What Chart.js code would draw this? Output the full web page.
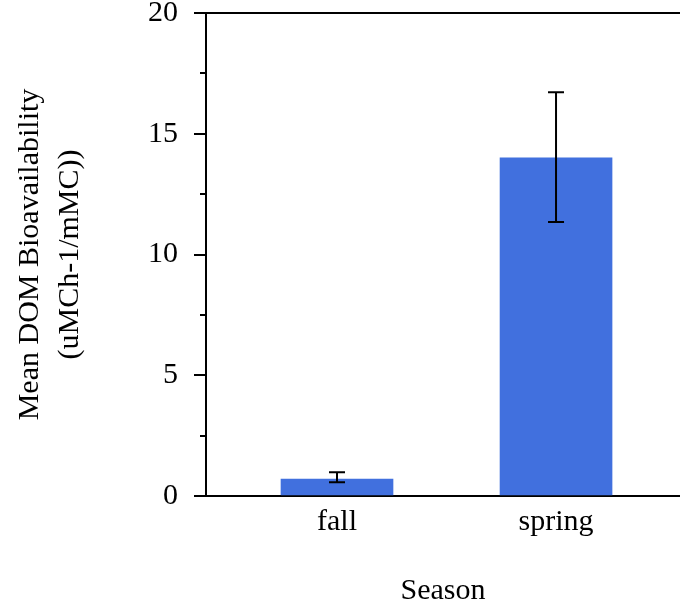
<!DOCTYPE html>
<html>
<head>
<meta charset="utf-8">
<script src="https://cdn.jsdelivr.net/npm/chart.js@4.4.1/dist/chart.umd.min.js"></script>
<style>
    html, body { margin: 0; padding: 0; background: #fff; }
    #wrap { width: 680px; height: 608px; }
</style>
</head>
<body>
<div id="wrap"><canvas id="chart"></canvas></div>
<script>
const seasons = ['fall', 'spring'];
const meanValues = [0.70, 14.0];
const errLow = [0.57, 11.35];
const errHigh = [0.98, 16.72];
const minorTicks = [2.5, 7.5, 12.5, 17.5];

const FONT = 'Liberation Serif, Times New Roman, serif';

// error bars, minor ticks and the top frame line
const extrasPlugin = {
    id: 'extras',
    afterDatasetsDraw(chart) {
        const { ctx, chartArea, scales: { x, y } } = chart;
        ctx.save();
        ctx.strokeStyle = '#000';
        ctx.lineWidth = 2;

        seasons.forEach((s, i) => {
            const px = x.getPixelForValue(i + 1);
            const yLo = y.getPixelForValue(errLow[i]);
            const yHi = y.getPixelForValue(errHigh[i]);
            ctx.beginPath();
            ctx.moveTo(px, yLo);
            ctx.lineTo(px, yHi);
            ctx.moveTo(px - 8, yLo);
            ctx.lineTo(px + 8, yLo);
            ctx.moveTo(px - 8, yHi);
            ctx.lineTo(px + 8, yHi);
            ctx.stroke();
        });

        minorTicks.forEach(v => {
            const py = Math.round(y.getPixelForValue(v));
            ctx.beginPath();
            ctx.moveTo(chartArea.left - 6, py);
            ctx.lineTo(chartArea.left, py);
            ctx.stroke();
        });

        ctx.beginPath();
        ctx.moveTo(chartArea.left, chartArea.top);
        ctx.lineTo(chartArea.right, chartArea.top);
        ctx.stroke();
        ctx.restore();
    }
};

new Chart(document.getElementById('chart'), {
    type: 'bar',
    data: {
        datasets: [{
            data: meanValues.map((v, i) => ({ x: i + 1, y: v })),
            backgroundColor: '#4170DE',
            barThickness: 112,
            borderWidth: 0
        }]
    },
    options: {
        responsive: true,
        maintainAspectRatio: false,
        animation: false,
        layout: { padding: 0 },
        plugins: {
            legend: { display: false },
            tooltip: { enabled: false }
        },
        scales: {
            x: {
                type: 'linear',
                offset: false,
                min: 0.4018,
                max: 2.566,
                afterBuildTicks: scale => {
                    scale.ticks = seasons.map((s, i) => ({ value: i + 1 }));
                },
                ticks: {
                    callback: v => seasons[v - 1] || '',
                    color: '#000',
                    font: { family: FONT, size: 30 },
                    padding: 8,
                    maxRotation: 0,
                    autoSkip: false
                },
                grid: { display: false, drawTicks: false },
                border: { display: true, color: '#000', width: 2 },
                title: {
                    display: true,
                    text: 'Season',
                    color: '#000',
                    font: { family: FONT, size: 30, lineHeight: 1.1 },
                    padding: { top: 27, bottom: 0 }
                }
            },
            y: {
                min: 0,
                max: 20,
                afterFit: scale => { scale.paddingTop = 13; },
                ticks: {
                    stepSize: 5,
                    color: '#000',
                    font: { family: FONT, size: 30 },
                    padding: 16
                },
                grid: {
                    drawOnChartArea: false,
                    drawTicks: true,
                    tickLength: 12,
                    color: '#000',
                    lineWidth: 2
                },
                border: { display: true, color: '#000', width: 2 },
                title: {
                    display: true,
                    text: ['Mean DOM Bioavailability', '(uMCh-1/mMC))'],
                    color: '#000',
                    font: { family: FONT, size: 30, lineHeight: 1.333 },
                    padding: { top: 10, bottom: 42 }
                }
            }
        }
    },
    plugins: [extrasPlugin]
});
</script>
</body>
</html>
